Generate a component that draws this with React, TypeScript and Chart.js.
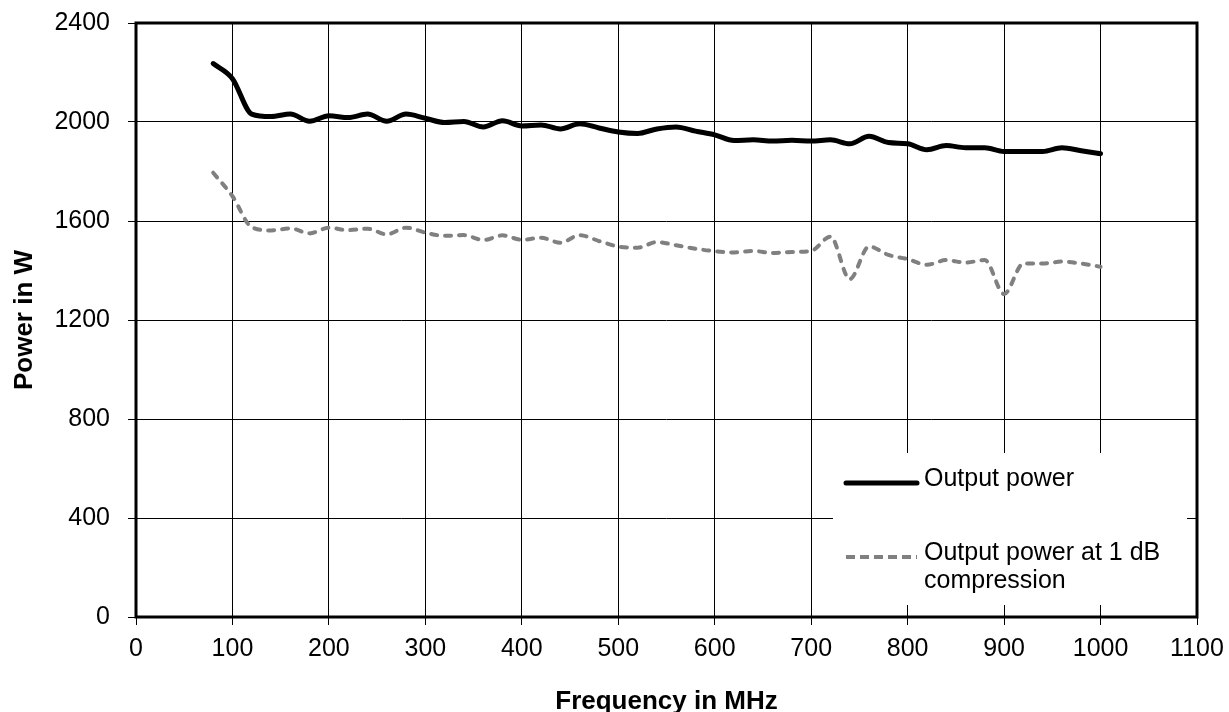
import React, { useEffect, useRef } from "react";
import { Chart, registerables } from "chart.js";

Chart.register(...registerables);

// ---- Data ----
const frequencies = [
  80, 100, 120, 140, 160, 180, 200, 220, 240, 260, 280, 300, 320, 340, 360, 380, 400,
  420, 440, 460, 480, 500, 520, 540, 560, 580, 600, 620, 640, 660, 680, 700, 720, 740,
  760, 780, 800, 820, 840, 860, 880, 900, 920, 940, 960, 980, 1000,
];

const outputPower = [
  2236, 2175, 2032, 2022, 2032, 2003, 2025, 2018, 2032, 2003, 2032, 2015, 1998, 2002, 1980, 2005, 1984,
  1988, 1972, 1993, 1976, 1960, 1954, 1972, 1980, 1963, 1948, 1925, 1928, 1923, 1926, 1923, 1928, 1912,
  1942, 1917, 1912, 1888, 1905, 1896, 1896, 1881, 1881, 1881, 1896, 1884, 1872,
];

const outputPower1dB = [
  1795, 1700, 1575, 1562, 1570, 1550, 1573, 1563, 1569, 1546, 1573, 1553, 1540, 1543, 1523, 1542, 1524,
  1532, 1512, 1543, 1519, 1497, 1492, 1515, 1502, 1488, 1478, 1473, 1479, 1471, 1475, 1479, 1537, 1365,
  1497, 1463, 1446, 1423, 1442, 1432, 1442, 1305, 1428, 1428, 1436, 1428, 1415,
];

const xTickValues = [0, 100, 200, 300, 400, 500, 600, 700, 800, 900, 1000, 1100];
const yTickValues = [0, 400, 800, 1200, 1600, 2000, 2400];

const seriesLabels = ["Output power", "Output power at 1 dB compression"];
const xTitle = "Frequency in MHz";
const yTitle = "Power in W";

const FONT = '"Liberation Sans", Arial, Helvetica, sans-serif';

const frameAndLegendPlugin = {
  id: "frameAndLegend",
  beforeDatasetsDraw(chart: any) {
    const { ctx, chartArea } = chart;
    ctx.save();
    ctx.strokeStyle = "#000";
    ctx.lineWidth = 3;
    ctx.strokeRect(
      Math.round(chartArea.left),
      Math.round(chartArea.top),
      Math.round(chartArea.right) - Math.round(chartArea.left),
      Math.round(chartArea.bottom) - Math.round(chartArea.top)
    );
    ctx.restore();
  },
  afterDraw(chart: any) {
    const { ctx, chartArea } = chart;
    const boxRight = chartArea.right - 10;
    const boxLeft = boxRight - 354;
    const boxBottom = chartArea.bottom - 12;
    const boxTop = boxBottom - 152;
    ctx.save();
    ctx.fillStyle = "#fff";
    ctx.fillRect(boxLeft, boxTop, boxRight - boxLeft, boxBottom - boxTop);

    ctx.font = `25px ${FONT}`;
    ctx.fillStyle = "#000";
    ctx.textAlign = "left";
    ctx.textBaseline = "alphabetic";

    const lineX0 = boxLeft + 13;
    const lineX1 = boxLeft + 84;
    const textX = boxLeft + 91;
    const maxW = boxRight - textX - 5;
    const rowY = [boxTop + 30, boxTop + 104];
    const lineHeight = 28;

    chart.data.datasets.forEach((ds: any, i: number) => {
      const ly = rowY[i];
      ctx.save();
      ctx.strokeStyle = ds.borderColor;
      ctx.lineWidth = ds.borderWidth;
      ctx.lineCap = i === 0 ? "round" : "butt";
      ctx.setLineDash(i === 0 ? [] : [9, 5]);
      ctx.beginPath();
      ctx.moveTo(lineX0, ly);
      ctx.lineTo(lineX1, ly);
      ctx.stroke();
      ctx.restore();

      const words = String(ds.label).split(" ");
      const lines: string[] = [];
      let cur = "";
      words.forEach((w) => {
        const test = cur ? cur + " " + w : w;
        if (ctx.measureText(test).width > maxW && cur) {
          lines.push(cur);
          cur = w;
        } else cur = test;
      });
      if (cur) lines.push(cur);
      lines.forEach((t, k) => {
        ctx.fillText(t, textX, ly + 3 + k * lineHeight);
      });
    });
    ctx.restore();
  },
};

export default function App() {
  const canvasRef = useRef<HTMLCanvasElement | null>(null);

  useEffect(() => {
    document.body.style.margin = "0";
    const canvas = canvasRef.current;
    if (!canvas) return;

    const chart = new Chart(canvas, {
      type: "line",
      data: {
        datasets: [
          {
            label: seriesLabels[0],
            data: frequencies.map((f, i) => ({ x: f, y: outputPower[i] })),
            borderColor: "#000000",
            borderWidth: 5,
            borderCapStyle: "round",
            borderJoinStyle: "round",
            pointRadius: 0,
            cubicInterpolationMode: "monotone",
            fill: false,
          },
          {
            label: seriesLabels[1],
            data: frequencies.map((f, i) => ({ x: f, y: outputPower1dB[i] })),
            borderColor: "#808080",
            borderWidth: 4,
            borderCapStyle: "round",
            borderJoinStyle: "round",
            borderDash: [6, 8],
            pointRadius: 0,
            cubicInterpolationMode: "monotone",
            fill: false,
          },
        ],
      },
      options: {
        responsive: false,
        animation: false,
        devicePixelRatio: 1,
        layout: { padding: { top: 23, right: 32, left: 0, bottom: 0 } },
        plugins: {
          legend: { display: false },
          tooltip: { enabled: false },
        },
        scales: {
          x: {
            type: "linear",
            min: 0,
            max: 1100,
            afterBuildTicks: (s: any) => {
              s.ticks = xTickValues.map((v) => ({ value: v }));
            },
            afterFit: (s: any) => {
              s.height = 95;
              s.paddingLeft = 0;
              s.paddingRight = 0;
            },
            grid: { color: "#000", lineWidth: 1, tickLength: 8, drawTicks: true },
            border: { display: false },
            ticks: {
              color: "#000",
              font: { family: FONT, size: 25 },
              padding: 9,
              maxRotation: 0,
              autoSkip: false,
              callback: (v: any) => String(v),
            },
            title: {
              display: true,
              text: xTitle,
              color: "#000",
              font: { family: FONT, size: 26, weight: "bold", lineHeight: 1 },
              padding: { top: 0, bottom: -3 },
            },
          },
          y: {
            type: "linear",
            min: 0,
            max: 2400,
            afterBuildTicks: (s: any) => {
              s.ticks = yTickValues.map((v) => ({ value: v }));
            },
            afterFit: (s: any) => {
              s.width = 136;
              s.paddingTop = 0;
              s.paddingBottom = 0;
            },
            grid: { color: "#000", lineWidth: 1, tickLength: 8, drawTicks: true },
            border: { display: false },
            ticks: {
              color: "#000",
              font: { family: FONT, size: 25 },
              padding: 18,
              autoSkip: false,
              callback: (v: any) => String(v),
            },
            title: {
              display: true,
              text: yTitle,
              color: "#000",
              font: { family: FONT, size: 26, weight: "bold", lineHeight: 1 },
              padding: { top: 12, bottom: 0 },
            },
          },
        },
      },
      plugins: [frameAndLegendPlugin],
    } as any);

    return () => {
      chart.destroy();
    };
  }, []);

  return (
    <div style={{ position: "absolute", left: 0, top: 0, width: 1229, height: 712, background: "#fff" }}>
      <canvas ref={canvasRef} width={1229} height={712} style={{ display: "block" }} />
    </div>
  );
}
